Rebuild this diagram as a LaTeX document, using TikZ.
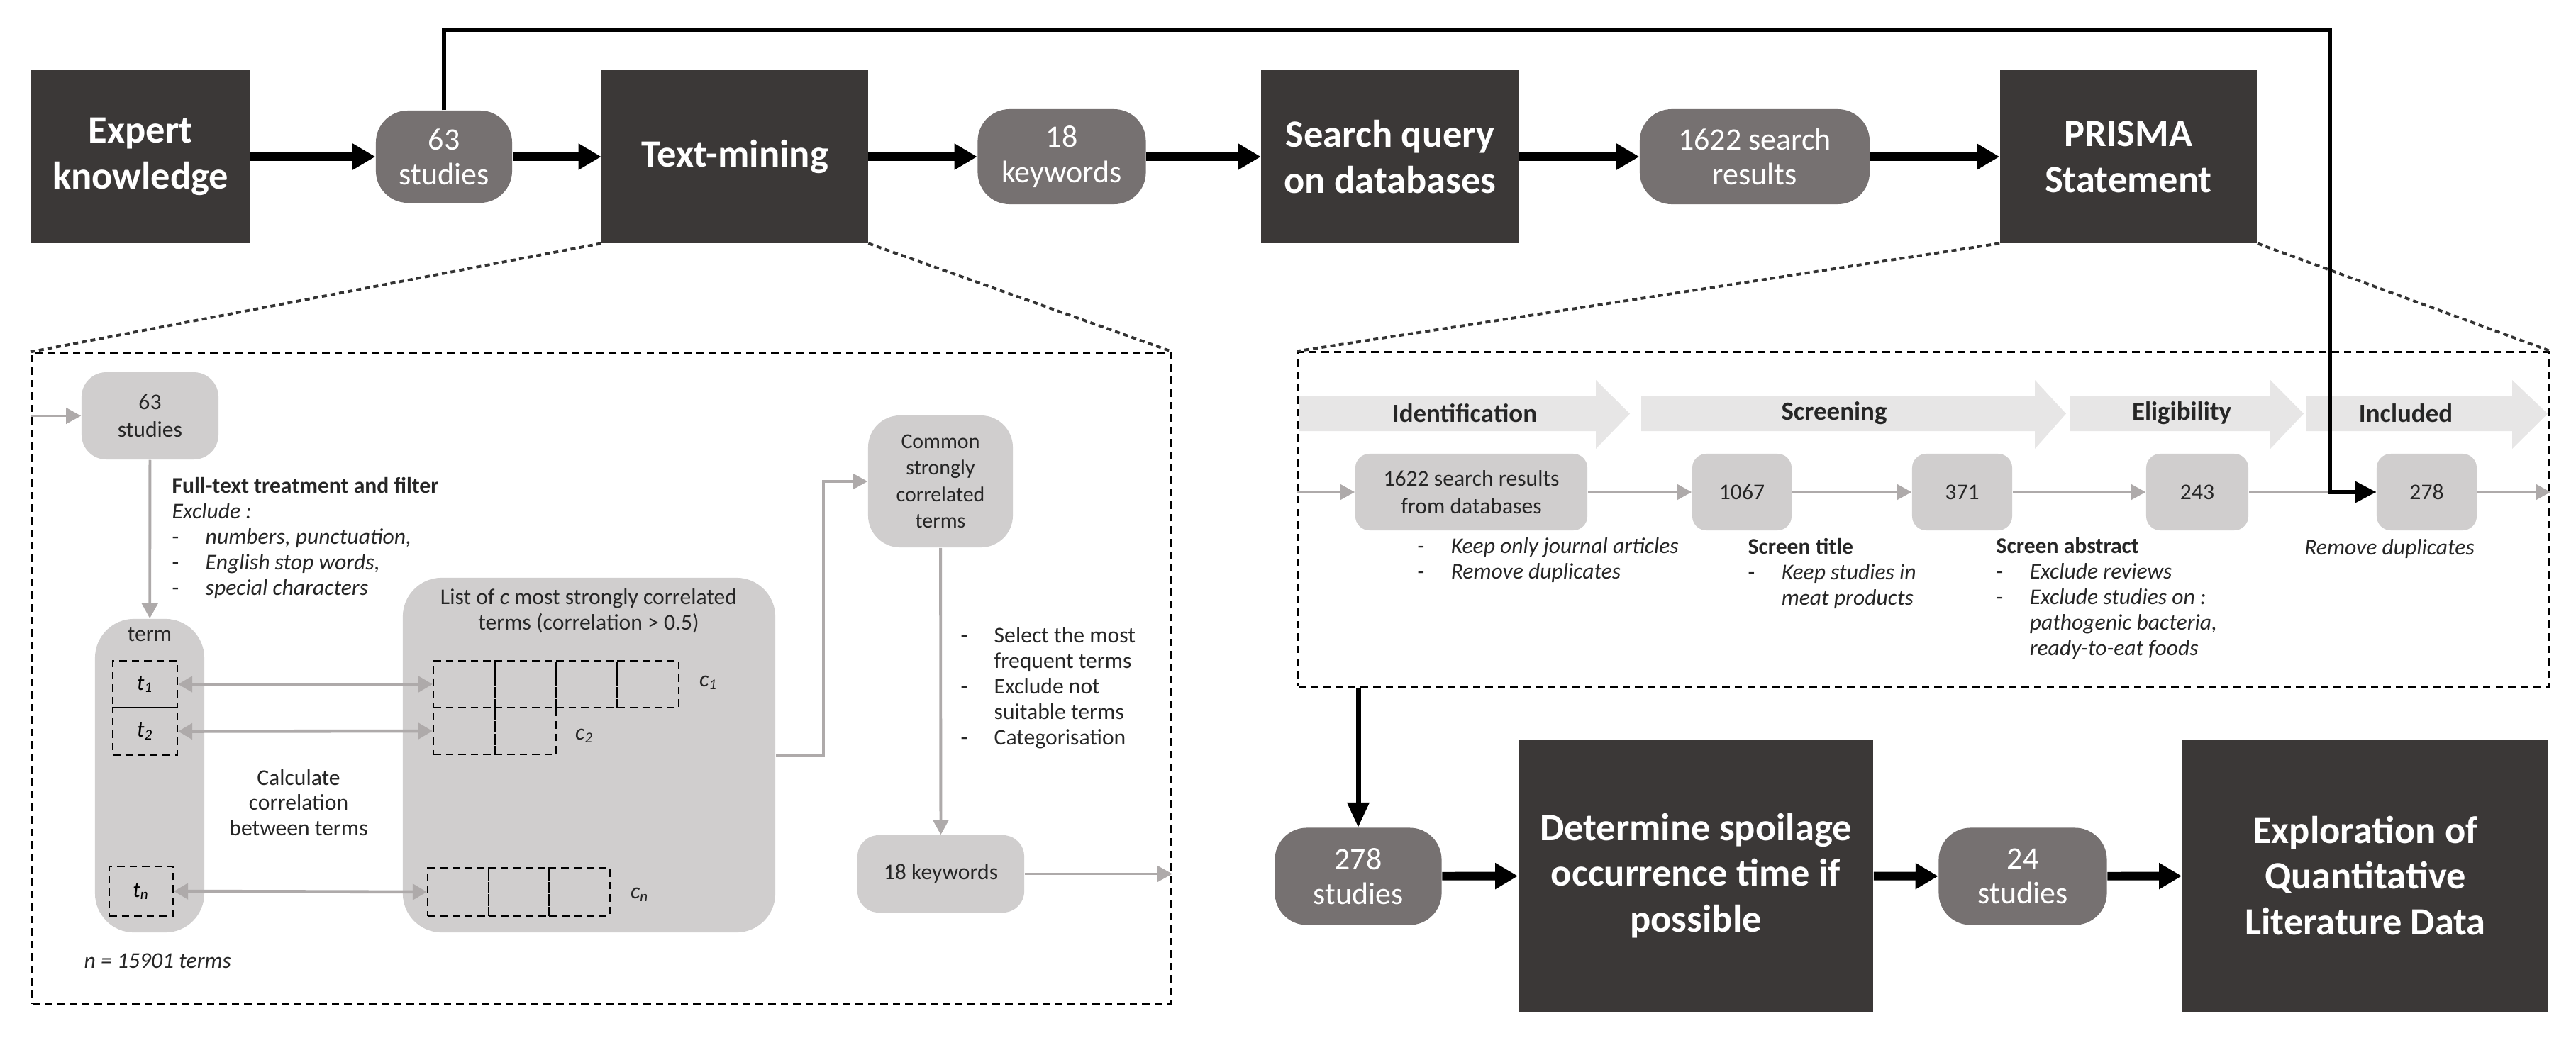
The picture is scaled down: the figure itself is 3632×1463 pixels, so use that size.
\documentclass[tikz,border=0pt]{standalone}
\usepackage{fontspec}
\setmainfont{Carlito}
\usetikzlibrary{arrows.meta, positioning}

\definecolor{darkfill}{HTML}{3B3837}
\definecolor{midfill}{HTML}{767171}
\definecolor{lightfill}{HTML}{D0CECE}
\definecolor{chevfill}{HTML}{E7E6E6}
\definecolor{greyline}{HTML}{AEAAAA}

\newcommand{\dashitem}[1]{\makebox[0.47cm][l]{-}#1}
\newcommand{\itemgap}{\hspace*{0.47cm}}

\begin{document}
\begin{tikzpicture}[x=0.01cm, y=-0.01cm,
    darkbox/.style={rectangle, fill=darkfill, text=white, align=center, inner sep=0pt, font=\fontsize{15.5}{18.4}\selectfont\bfseries},
    pill/.style={rectangle, rounded corners=0.45cm, fill=midfill, text=white, align=center, inner sep=0pt, minimum height=1.34cm, font=\fontsize{12.5}{14}\selectfont},
    lightbox/.style={rectangle, rounded corners=0.2cm, fill=lightfill, align=center, inner sep=0pt, text=black!85, font=\fontsize{9}{11}\selectfont},
    cell/.style={rectangle, draw, densely dashed, line width=0.6pt, inner sep=0pt},
    panel/.style={rectangle, draw, line width=0.9pt, dash pattern=on 3pt off 2pt, inner sep=0pt},
    zoomline/.style={draw=black!80, line width=1.1pt, dash pattern=on 2pt off 1.5pt},
    note/.style={align=left, inner sep=0pt, text=black!85, font=\fontsize{9}{10.2}\selectfont},
    chevlbl/.style={inner sep=0pt, text=black!85, font=\fontsize{10.5}{12}\selectfont\bfseries},
    bigarrow/.style={line width=3.4pt, -{Triangle[length=0.32cm, width=0.35cm]}},
    midarrow/.style={line width=2pt, -{Triangle[length=0.35cm, width=0.3cm]}},
    fbarrow/.style={line width=1.5pt, -{Triangle[length=0.3cm, width=0.3cm]}},
    greyarrow/.style={draw=greyline, line width=1.1pt, -{Triangle[length=0.21cm, width=0.22cm]}},
    dblarrow/.style={draw=greyline, line width=1.3pt, {Triangle[length=0.2cm, width=0.22cm]}-{Triangle[length=0.2cm, width=0.22cm]}}
]
\useasboundingbox (0,0) rectangle (3632,1463);

% main flow
\node[darkbox, minimum width=3.08cm, minimum height=2.43cm] (expert) at (198,221) {Expert\\knowledge};
\node[pill, minimum width=1.92cm, minimum height=1.3cm] (s63) at (626,221) {63\\studies};
\node[darkbox, minimum width=3.75cm, minimum height=2.43cm] (textmining) at (1036,221) {Text-mining};
\node[pill, minimum width=2.37cm] (kw18) at (1497,221) {18\\keywords};
\node[darkbox, minimum width=3.63cm, minimum height=2.43cm] (search) at (1960,221) {Search query\\on databases};
\node[pill, minimum width=3.24cm] (res1622) at (2474,221) {1622 search\\results};
\node[darkbox, minimum width=3.62cm, minimum height=2.43cm] (prisma) at (3001,221) {PRISMA\\Statement};

\node[pill, minimum width=2.35cm, minimum height=1.37cm] (s278) at (1915,1236) {278\\studies};
\node[darkbox, minimum width=5.0cm, minimum height=3.84cm] (determine) at (2391,1235) {Determine spoilage\\occurrence time if\\possible};
\node[pill, minimum width=2.37cm, minimum height=1.37cm] (s24) at (2852,1236) {24\\studies};
\node[darkbox, minimum width=5.16cm, minimum height=3.84cm] (explore) at (3335,1235) {Exploration of\\Quantitative\\Literature Data};

\draw[bigarrow] (expert) -- (s63);
\draw[bigarrow] (s63) -- (textmining);
\draw[bigarrow] (textmining) -- (kw18);
\draw[bigarrow] (kw18) -- (search);
\draw[bigarrow] (search) -- (res1622);
\draw[bigarrow] (res1622) -- (prisma);
\draw[bigarrow] (s278) -- (determine);
\draw[bigarrow] (determine) -- (s24);
\draw[bigarrow] (s24) -- (explore);

% text-mining detail
\node[panel, minimum width=16.05cm, minimum height=9.17cm] (lpanel) at (848.5,956.5) {};
\draw[zoomline] (textmining.south west) -- (lpanel.north west);
\draw[zoomline] (textmining.south east) -- (lpanel.north east);

\node[lightbox, rounded corners=0.35cm, minimum width=1.93cm, minimum height=1.23cm] (lp63) at (211.5,586.5) {63\\studies};
\node[lightbox, rounded corners=0.55cm, minimum width=1.54cm, minimum height=4.42cm] (termcol) at (211,1094) {};
\node[note, align=center] (termlbl) at (211,895) {term};
\node[cell, minimum width=0.91cm, minimum height=0.66cm] (t1) at (204.5,965) {\small\textit{t\textsubscript{1}}};
\node[cell, minimum width=0.91cm, minimum height=0.67cm] (t2) at (204.5,1031.5) {\small\textit{t\textsubscript{2}}};
\node[cell, minimum width=0.9cm, minimum height=0.7cm] (tn) at (199,1257) {\small\textit{t\textsubscript{n}}};

\node[lightbox, rounded corners=0.55cm, minimum width=5.25cm, minimum height=5.0cm] (listbox) at (830.5,1065) {};
\node[note, align=center] (listlbl) at (830,862) {List of \textit{c} most strongly correlated\\terms (correlation > 0.5)};
\foreach \i in {1,...,4}
    \node[cell, minimum width=0.865cm, minimum height=0.66cm] (ca\i) at ({611+86.5*(\i-0.5)},965) {};
\foreach \i in {1,2}
    \node[cell, minimum width=0.865cm, minimum height=0.66cm] (cb\i) at ({611+86.5*(\i-0.5)},1031) {};
\foreach \i in {1,...,3}
    \node[cell, minimum width=0.857cm, minimum height=0.67cm] (cn\i) at ({603+85.7*(\i-0.5)},1258) {};
\node[note] (calbl) at (999,963) {\small\textit{c\textsubscript{1}}};
\node[note] (cblbl) at (824,1038) {\small\textit{c\textsubscript{2}}};
\node[note] (cnlbl) at (902,1262) {\small\textit{c\textsubscript{n}}};

\draw[dblarrow] (t1.east) -- (ca1.west);
\draw[dblarrow] (t2.east) -- (cb1.west);
\draw[dblarrow] (tn.east) -- (cn1.west);

\node[note, align=center] (calc) at (421,1132) {Calculate\\correlation\\between terms};
\node[note, anchor=base west] (nterms) at (118,1365) {\textit{n = 15901 terms}};
\node[note, anchor=north west] (ftnote) at (242,673) {\textbf{Full-text treatment and filter}\\\textit{Exclude :}\\\dashitem{\textit{numbers, punctuation,}}\\\dashitem{\textit{English stop words,}}\\\dashitem{\textit{special characters}}};

\node[lightbox, rounded corners=0.45cm, minimum width=2.04cm, minimum height=1.86cm, font=\fontsize{8.5}{10.6}\selectfont] (common) at (1326,679) {Common\\strongly\\correlated\\terms};
\node[lightbox, rounded corners=0.3cm, minimum width=2.35cm, minimum height=1.09cm] (kw18b) at (1326.5,1232.5) {18 keywords};
\node[note, anchor=north west] (selnote) at (1354,884) {\dashitem{Select the most}\\\itemgap frequent terms\\\dashitem{Exclude not}\\\itemgap suitable terms\\\dashitem{Categorisation}};

\draw[greyarrow] (lpanel.west |- lp63) -- (lp63);
\draw[greyarrow] (lp63) -- (termcol);
\draw[greyarrow] (listbox.east) -- ++(67,0) |- (common.west);
\draw[greyarrow] (common) -- (kw18b);
\draw[greyarrow] (kw18b) -- (kw18b -| lpanel.east);

% PRISMA detail
\foreach \xa/\xb/\xc in {1831/2250/2298, 2314/2869/2913, 2918/3201/3248, 3251/3542/3592}
    \fill[chevfill] (\xa,559) -- (\xb,559) -- (\xb,536) -- (\xc,583.5) -- (\xb,633) -- (\xb,608) -- (\xa,608) -- cycle;
\node[chevlbl] (idlbl) at (2065,583) {Identification};
\node[chevlbl] (sclbl) at (2586,583) {Screening};
\node[chevlbl] (ellbl) at (3076,583) {Eligibility};
\node[chevlbl] (inlbl) at (3392,583) {Included};

\node[panel, minimum width=17.63cm, minimum height=4.71cm] (rpanel) at (2712.5,732.5) {};
\draw[zoomline] (prisma.south west) -- (rpanel.north west);
\draw[zoomline] (prisma.south east) -- (rpanel.north east);

\node[lightbox, minimum width=3.27cm, minimum height=1.08cm] (r1622) at (2074.5,694) {1622 search results\\from databases};
\node[lightbox, minimum width=1.4cm, minimum height=1.08cm] (r1067) at (2456,694) {1067};
\node[lightbox, minimum width=1.41cm, minimum height=1.08cm] (r371) at (2766.5,694) {371};
\node[lightbox, minimum width=1.44cm, minimum height=1.08cm] (r243) at (3098,694) {243};
\node[lightbox, minimum width=1.41cm, minimum height=1.08cm] (r278) at (3421.5,694) {278};

\draw[greyarrow] (rpanel.west |- r1622) -- (r1622);
\draw[greyarrow] (r1622) -- (r1067);
\draw[greyarrow] (r1067) -- (r371);
\draw[greyarrow] (r371) -- (r243);
\draw[draw=greyline, line width=1.1pt] (r243) -- (r278);
\draw[greyarrow] (r278) -- (r278 -| rpanel.east);

\node[note, anchor=north west] (idnote) at (1998,758) {\dashitem{\textit{Keep only journal articles}}\\\dashitem{\textit{Remove duplicates}}};
\node[note, anchor=north west] (stnote) at (2464,759) {\textbf{Screen title}\\\dashitem{\textit{Keep studies in}}\\\itemgap\textit{meat products}};
\node[note, anchor=north west] (sanote) at (2814,758) {\textbf{Screen abstract}\\\dashitem{\textit{Exclude reviews}}\\\dashitem{\textit{Exclude studies on :}}\\\itemgap\textit{pathogenic bacteria,}\\\itemgap\textit{ready-to-eat foods}};
\node[note, anchor=base] (innote) at (3369,782) {\textit{Remove duplicates}};

% feedback of the 63 studies
\coordinate (fbcorner) at (3285,42);
\draw[fbarrow] (s63.north) |- (fbcorner) |- (r278.west);
\draw[midarrow] (s278.north |- rpanel.south) -- (s278.north);

\end{tikzpicture}
\end{document}
